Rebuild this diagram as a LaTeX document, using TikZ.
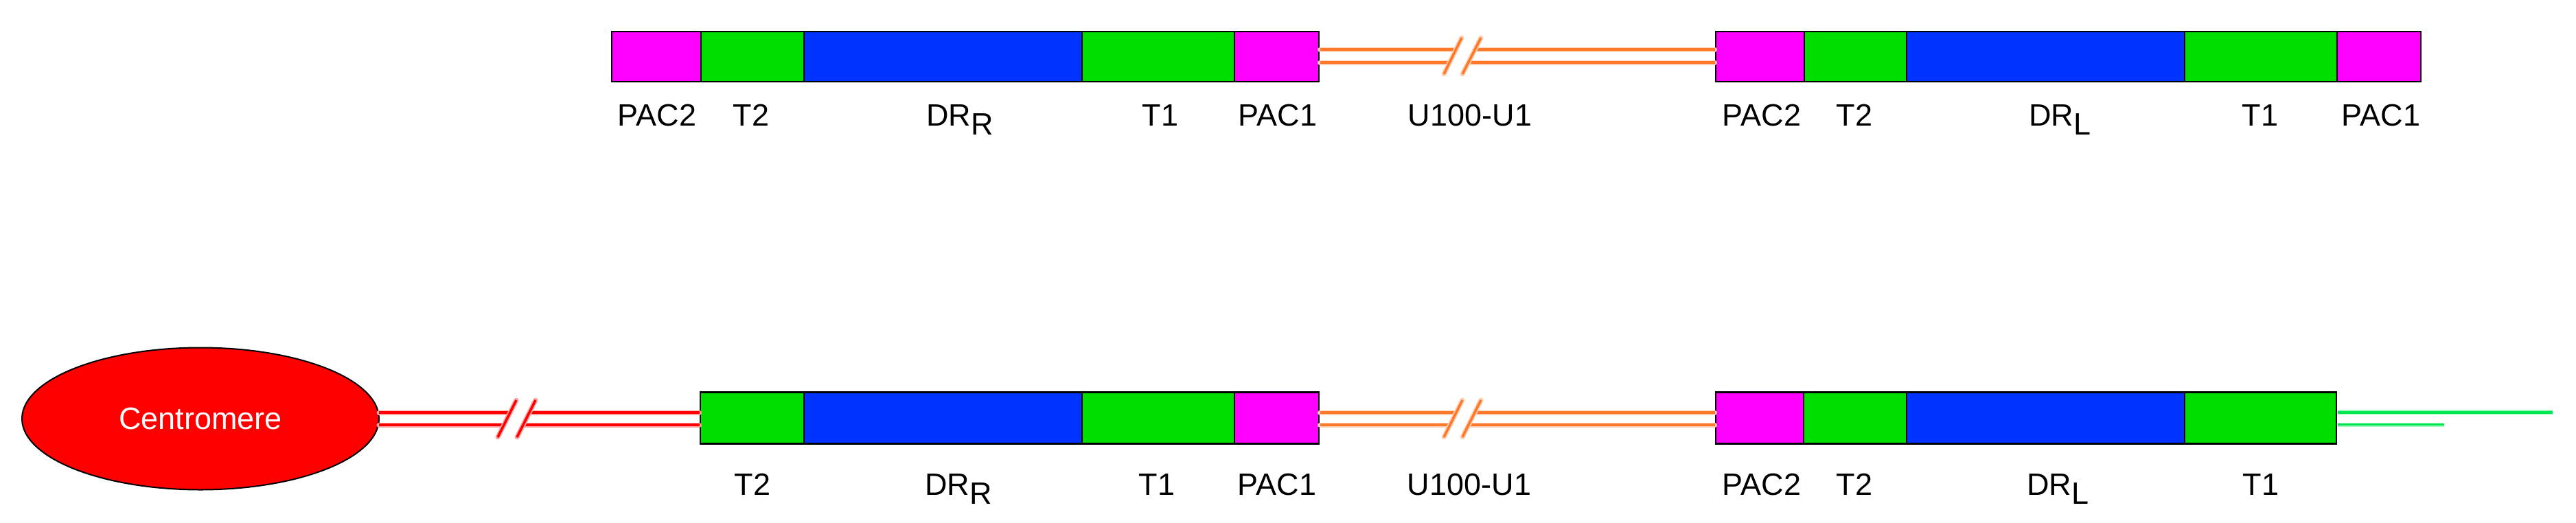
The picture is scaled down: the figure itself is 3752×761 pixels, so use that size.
\documentclass[tikz,border=0pt]{standalone}
\usepackage{fontspec}
\setmainfont{Liberation Sans}
\usetikzlibrary{shapes.geometric,calc}
\definecolor{cmag}{RGB}{255,0,255}
\definecolor{cgreen}{RGB}{0,222,0}
\definecolor{cblue}{RGB}{0,51,255}
\definecolor{cred}{RGB}{255,0,0}
\definecolor{corange}{RGB}{255,120,40}
\definecolor{clgreen}{RGB}{0,232,80}
\tikzset{
  seg/.style={draw=black, line width=2.5pt, inner sep=0pt, outer sep=0pt},
  lbl/.style={anchor=base, inner sep=0pt, font=\fontsize{45}{48}\selectfont},
  halo/.style={line width=7pt, #1!35, line cap=round},
  core/.style={line width=3.5pt, #1},
}
\newcommand{\segbox}[6]{%
  \node[seg, fill=#5, minimum width={#3-#2}, minimum height=#6] (#1) at ({(#2+#3)/2},#4) {};}
\newcommand{\dline}[3]{%
  \draw[halo=#1] #2 -- #3; \draw[core=#1] #2 -- #3;}
\begin{document}
\begin{tikzpicture}[x=1pt,y=-1pt]
\useasboundingbox (0,0) rectangle (3752,761);
\fill[white] (0,0) rectangle (3752,761);

% ---------- top row ----------
\coordinate (tA1) at (2121,72);  \coordinate (tA2) at (2148,72);
\coordinate (tB1) at (2111,91);  \coordinate (tB2) at (2139,91);
\coordinate (ts1a) at (2103,108); \coordinate (ts1b) at (2129,55);
\coordinate (ts2a) at (2130,108); \coordinate (ts2b) at (2157,55);

\segbox{apac2}{891}{1021}{82.5}{cmag}{73}
\segbox{at2}{1021}{1171}{82.5}{cgreen}{73}
\segbox{adr}{1171}{1576}{82.5}{cblue}{73}
\segbox{at1}{1576}{1798}{82.5}{cgreen}{73}
\segbox{apac1}{1798}{1921}{82.5}{cmag}{73}

\segbox{bpac2}{2499}{2628}{82.5}{cmag}{73}
\segbox{bt2}{2628}{2777}{82.5}{cgreen}{73}
\segbox{bdr}{2777}{3182}{82.5}{cblue}{73}
\segbox{bt1}{3182}{3404}{82.5}{cgreen}{73}
\segbox{bpac1}{3404}{3526}{82.5}{cmag}{73}

\dline{corange}{($(apac1.east)+(1.5,-10.5)$)}{(tA1)}
\dline{corange}{($(apac1.east)+(1.5,8.5)$)}{(tB1)}
\dline{corange}{(tA2)}{($(bpac2.west)+(-1.5,-10.5)$)}
\dline{corange}{(tB2)}{($(bpac2.west)+(-1.5,8.5)$)}
\dline{corange}{(ts1a)}{(ts1b)}
\dline{corange}{(ts2a)}{(ts2b)}

\node[lbl] (l1) at (957,183) {PAC2};
\node[lbl] (l2) at (1094,183) {T2};
\node[lbl] (l3) at (1398,183) {DR\raisebox{-13pt}{R}};
\node[lbl] (l4) at (1690,183) {T1};
\node[lbl] (l5) at (1861,183) {PAC1};
\node[lbl] (l6) at (2141,183) {U100-U1};
\node[lbl] (l7) at (2566,183) {PAC2};
\node[lbl] (l8) at (2701,183) {T2};
\node[lbl] (l9) at (3000,183) {DR\raisebox{-13pt}{L}};
\node[lbl] (l10) at (3292,183) {T1};
\node[lbl] (l11) at (3468,183) {PAC1};

% ---------- bottom row ----------
\node[ellipse, draw=black, line width=2pt, fill=cred, minimum width=520pt, minimum height=207pt,
      inner sep=0pt, text=white, font=\fontsize{45}{48}\selectfont] (cen) at (292,610) {Centromere};

\coordinate (rA1) at (743,601);  \coordinate (rA2) at (771,601);
\coordinate (rB1) at (734,619);  \coordinate (rB2) at (762,619);
\coordinate (rs1a) at (725,637); \coordinate (rs1b) at (752,583);
\coordinate (rs2a) at (753,637); \coordinate (rs2b) at (780,583);

\coordinate (oA1) at (2121,601);  \coordinate (oA2) at (2148,601);
\coordinate (oB1) at (2112,619);  \coordinate (oB2) at (2139,619);
\coordinate (os1a) at (2103,637); \coordinate (os1b) at (2130,583);
\coordinate (os2a) at (2130,637); \coordinate (os2b) at (2157,583);

\coordinate (gA) at (3718,600.5);
\coordinate (gB) at (3560,618.5);

\segbox{ct2}{1020}{1171}{609}{cgreen}{75}
\segbox{cdr}{1171}{1576}{609}{cblue}{75}
\segbox{ct1}{1576}{1798}{609}{cgreen}{75}
\segbox{cpac1}{1798}{1921}{609}{cmag}{75}

\segbox{dpac2}{2499}{2627}{609}{cmag}{75}
\segbox{dt2}{2627}{2777}{609}{cgreen}{75}
\segbox{ddr}{2777}{3182}{609}{cblue}{75}
\segbox{dt1}{3182}{3403}{609}{cgreen}{75}

\dline{cred}{($(cen.east)+(-1,-9)$)}{(rA1)}
\dline{cred}{($(cen.east)+(-1,9)$)}{(rB1)}
\dline{cred}{(rA2)}{($(ct2.west)+(-1.5,-8)$)}
\dline{cred}{(rB2)}{($(ct2.west)+(-1.5,10)$)}
\dline{cred}{(rs1a)}{(rs1b)}
\dline{cred}{(rs2a)}{(rs2b)}

\dline{corange}{($(cpac1.east)+(1.5,-8)$)}{(oA1)}
\dline{corange}{($(cpac1.east)+(1.5,10)$)}{(oB1)}
\dline{corange}{(oA2)}{($(dpac2.west)+(-1.5,-8)$)}
\dline{corange}{(oB2)}{($(dpac2.west)+(-1.5,10)$)}
\dline{corange}{(os1a)}{(os1b)}
\dline{corange}{(os2a)}{(os2b)}

\draw[line width=7pt, clgreen!35] ($(dt1.east)+(1.5,-8.5)$) -- (gA);
\draw[line width=4pt, clgreen] ($(dt1.east)+(1.5,-8.5)$) -- (gA);
\draw[line width=6pt, clgreen!35] ($(dt1.east)+(1.5,9.5)$) -- (gB);
\draw[line width=3pt, clgreen] ($(dt1.east)+(1.5,9.5)$) -- (gB);

\node[lbl] (m1) at (1096,721) {T2};
\node[lbl] (m2) at (1396,721) {DR\raisebox{-13pt}{R}};
\node[lbl] (m3) at (1685,721) {T1};
\node[lbl] (m4) at (1860,721) {PAC1};
\node[lbl] (m5) at (2140,721) {U100-U1};
\node[lbl] (m6) at (2566,721) {PAC2};
\node[lbl] (m7) at (2701,721) {T2};
\node[lbl] (m8) at (2997,721) {DR\raisebox{-13pt}{L}};
\node[lbl] (m9) at (3293,721) {T1};
\end{tikzpicture}
\end{document}
